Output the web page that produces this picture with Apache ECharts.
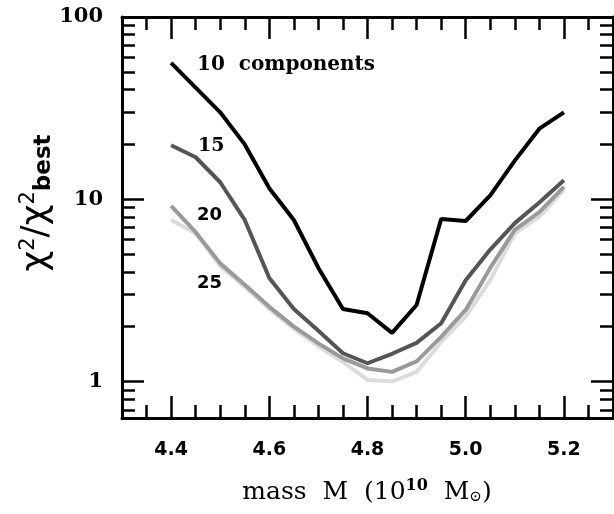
<!DOCTYPE html>
<html>
<head>
<meta charset="utf-8">
<script src="https://cdn.jsdelivr.net/npm/echarts@6/dist/echarts.min.js"></script>
<style>
html, body { margin: 0; padding: 0; background: #fff; }
#chart { width: 614px; height: 514px; }
</style>
</head>
<body>
<div id="chart"></div>
<script>
var masses = [4.40, 4.45, 4.50, 4.55, 4.60, 4.65, 4.70, 4.75, 4.80, 4.85, 4.90, 4.95, 5.00, 5.05, 5.10, 5.15, 5.20];
var comp10 = [56, 41, 30, 20, 11.5, 7.7, 4.2, 2.5, 2.37, 1.85, 2.63, 7.8, 7.6, 10.5, 16.3, 24.4, 30];
var comp15 = [19.8, 17.0, 12.4, 7.7, 3.7, 2.5, 1.9, 1.43, 1.26, 1.42, 1.63, 2.09, 3.6, 5.3, 7.4, 9.6, 12.7];
var comp20 = [9.2, 6.6, 4.45, 3.4, 2.57, 2.0, 1.62, 1.34, 1.18, 1.13, 1.29, 1.76, 2.47, 4.2, 6.8, 8.5, 11.7];
var comp25 = [7.7, 6.5, 4.3, 3.3, 2.5, 1.95, 1.56, 1.28, 1.02, 1.0, 1.13, 1.65, 2.27, 3.6, 6.5, 8.0, 11.3];

var xMajorTicks = [4.4, 4.6, 4.8, 5.0, 5.2];
var xMinorTicks = [4.35, 4.4, 4.45, 4.5, 4.55, 4.6, 4.65, 4.7, 4.75, 4.8, 4.85, 4.9, 4.95, 5.0, 5.05, 5.1, 5.15, 5.2, 5.25];
var yMajorTicks = [1, 10, 100];
var yMinorTicks = [0.7, 0.8, 0.9, 2, 3, 4, 5, 6, 7, 8, 9, 20, 30, 40, 50, 60, 70, 80, 90];

var chart = echarts.init(document.getElementById('chart'));

function pairs(ys) {
    return masses.map(function (m, i) { return [m, ys[i]]; });
}

function xAxisDef(pos, ticks, len, labels, line) {
    return {
        type: 'value', position: pos, min: 4.3, max: 5.3,
        axisLine: { show: line, onZero: false, lineStyle: { color: '#000', width: 3 } },
        axisTick: { inside: true, length: len, customValues: ticks, lineStyle: { color: '#000', width: 2.5 } },
        axisLabel: labels ? {
            customValues: xMajorTicks, margin: 23, color: '#000',
            fontFamily: 'DejaVu Sans', fontWeight: 'bold', fontSize: 19,
            formatter: function (v) { return v.toFixed(1); }
        } : { show: false },
        splitLine: { show: false }
    };
}

function yAxisDef(pos, ticks, len, labels, line) {
    return {
        type: 'log', logBase: 10, position: pos, min: 0.631, max: 100,
        axisLine: { show: line, onZero: false, lineStyle: { color: '#000', width: 3 } },
        axisTick: { inside: true, length: len, customValues: ticks, lineStyle: { color: '#000', width: 2.5 } },
        axisLabel: labels ? {
            customValues: yMajorTicks, margin: 19, color: '#000',
            fontFamily: 'DejaVu Serif', fontWeight: 'bold', fontSize: 21
        } : { show: false },
        splitLine: { show: false }
    };
}

function line(name, ys, color) {
    return {
        name: name, type: 'line', data: pairs(ys), showSymbol: false,
        lineStyle: { color: color, width: 4 }, z: 3
    };
}

var option = {
    animation: false,
    backgroundColor: '#fff',
    grid: { left: 122, right: 1, top: 17, bottom: 96 },
    xAxis: [
        xAxisDef('bottom', xMajorTicks, 22, true, true),
        xAxisDef('bottom', xMinorTicks, 13, false, false),
        xAxisDef('top', xMajorTicks, 22, false, true),
        xAxisDef('top', xMinorTicks, 13, false, false)
    ],
    yAxis: [
        yAxisDef('left', yMajorTicks, 22, true, true),
        yAxisDef('left', yMinorTicks, 13, false, false),
        yAxisDef('right', yMajorTicks, 22, false, true),
        yAxisDef('right', yMinorTicks, 13, false, false)
    ],
    series: [
        line('25', comp25, '#dcdcdc'),
        line('20', comp20, '#9a9a9a'),
        line('15', comp15, '#555555'),
        line('10', comp10, '#000000')
    ],
    graphic: [
        { type: 'text', left: 197, top: 55, style: { text: '10  components', fill: '#000', font: 'bold 20px "DejaVu Serif"' } },
        { type: 'text', left: 198, top: 137, style: { text: '15', fill: '#000', font: 'bold 19px "DejaVu Serif"' } },
        { type: 'text', left: 197, top: 206, style: { text: '20', fill: '#000', font: 'bold 18px "DejaVu Sans"' } },
        { type: 'text', left: 197, top: 274, style: { text: '25', fill: '#000', font: 'bold 18px "DejaVu Sans"' } },
        {
            type: 'text', x: 37, y: 203, rotation: Math.PI / 2,
            style: {
                text: '{b|χ}{s|2}{b|/χ}{s|2}{u|best}',
                align: 'center', verticalAlign: 'middle',
                rich: {
                    b: { fontFamily: 'DejaVu Sans', fontSize: 36, fill: '#000' },
                    s: { fontFamily: 'DejaVu Sans', fontSize: 21, verticalAlign: 'top', padding: [0, 0, 16, 0], fill: '#000' },
                    u: { fontFamily: 'DejaVu Sans', fontWeight: 'bold', fontSize: 23, verticalAlign: 'bottom', padding: [14, 0, 0, 0], fill: '#000' }
                }
            }
        },
        {
            type: 'text', x: 367, y: 492,
            style: {
                text: '{t|mass  M  (10}{s|10}{t|  M}{u|⊙}{t|)}',
                align: 'center', verticalAlign: 'middle',
                rich: {
                    t: { fontFamily: 'DejaVu Serif', fontSize: 25, fill: '#000' },
                    s: { fontFamily: 'DejaVu Serif', fontWeight: 'bold', fontSize: 16, padding: [0, 0, 12, 0], fill: '#000' },
                    u: { fontFamily: 'DejaVu Serif', fontSize: 15, padding: [10, 0, 0, 0], fill: '#000' }
                }
            }
        }
    ]
};

chart.setOption(option);
</script>
</body>
</html>
